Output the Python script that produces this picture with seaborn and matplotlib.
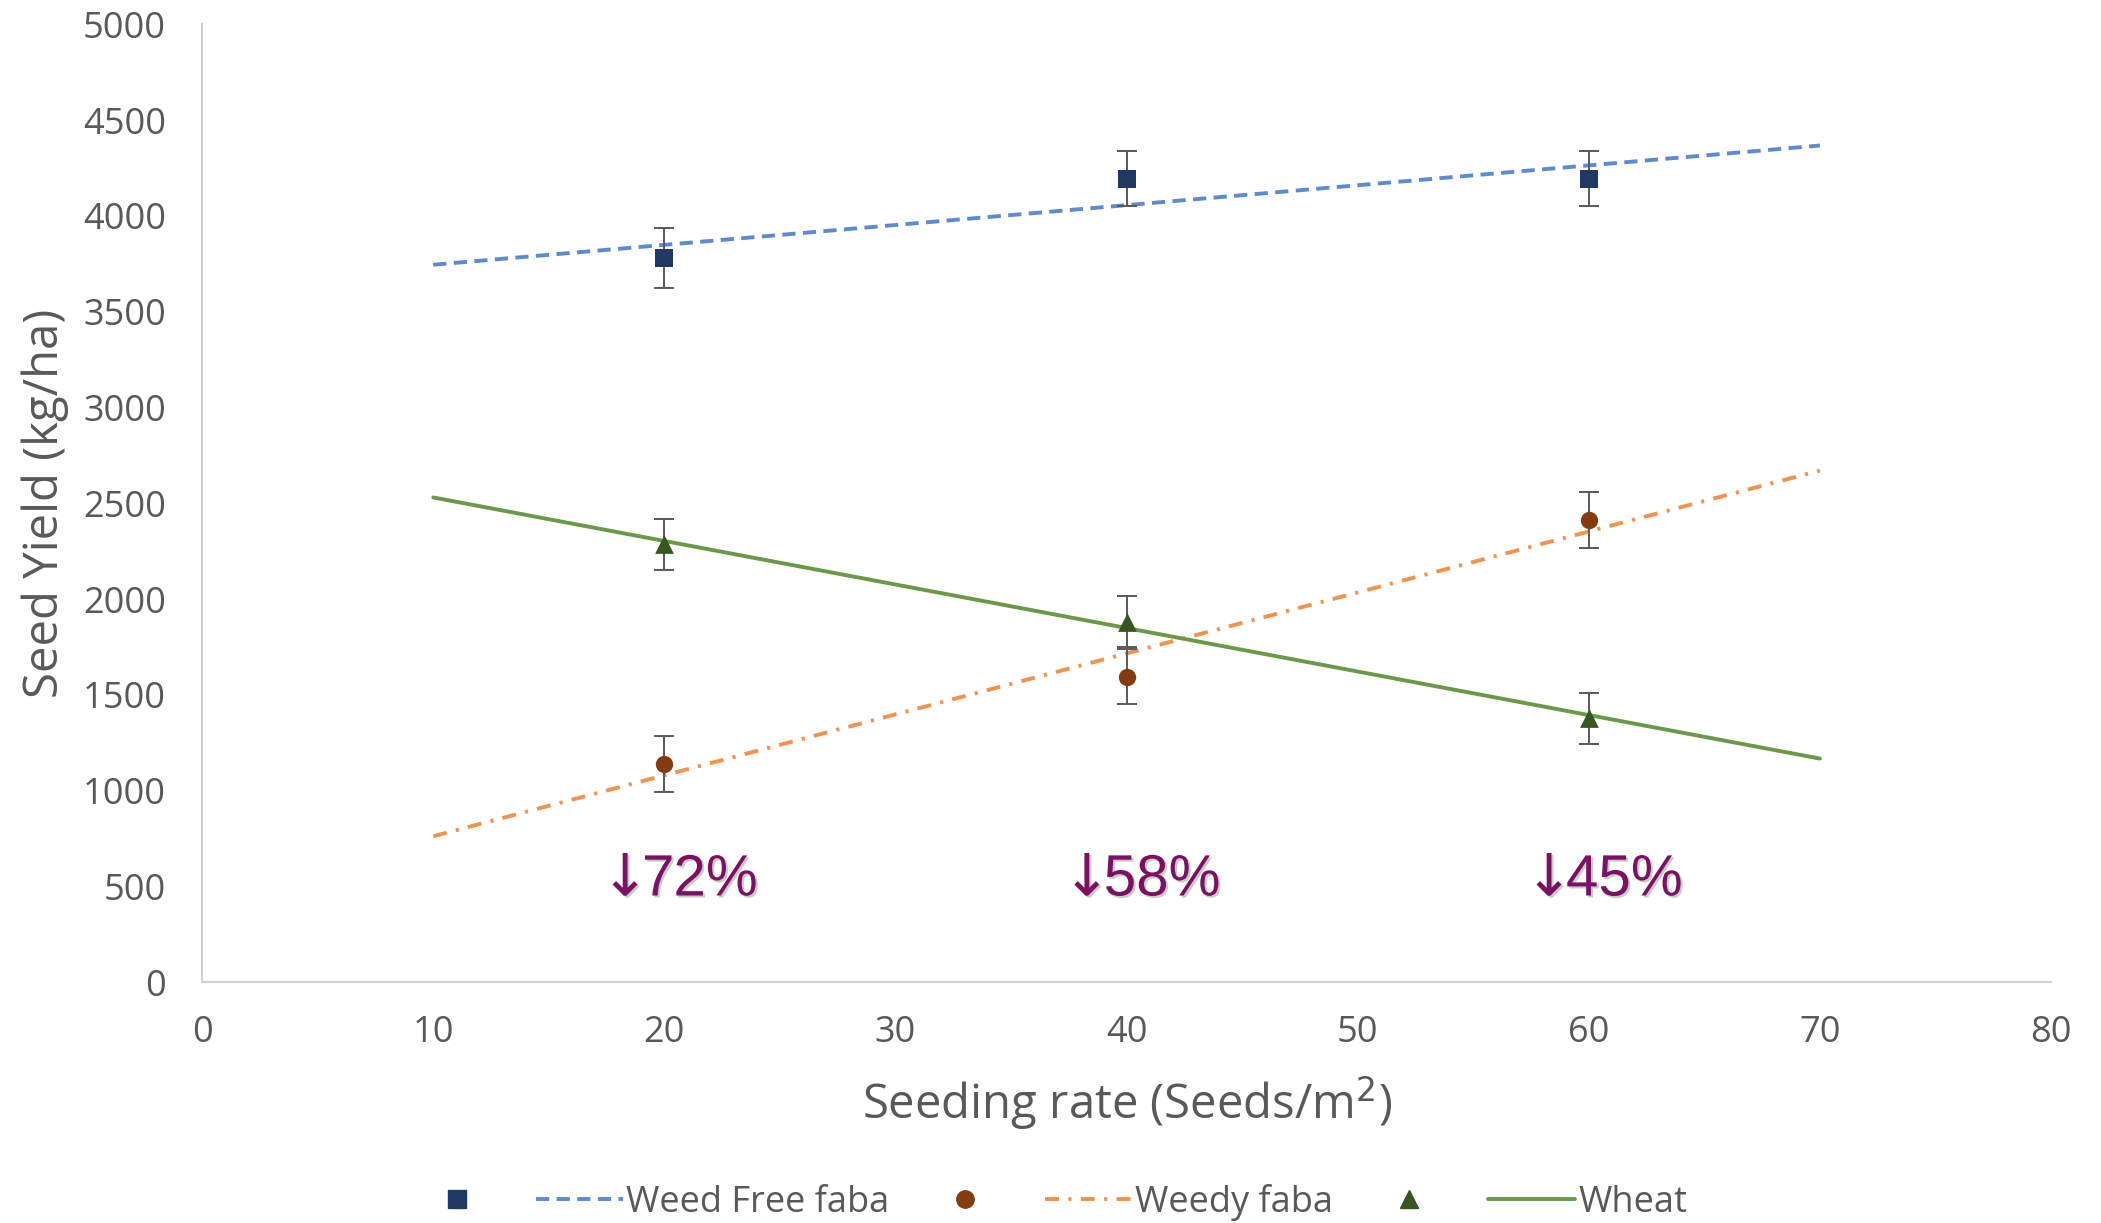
import numpy as np
import pandas as pd
import matplotlib
matplotlib.use("Agg")
import matplotlib.pyplot as plt
import matplotlib.patheffects as pe
from matplotlib.lines import Line2D
import seaborn as sns

# ---- data ----
seeding_rate = [20, 40, 60]
weed_free_faba = [3780, 4195, 4195]
weed_free_err = [155, 145, 145]
weedy_faba = [1140, 1595, 2413]
weedy_err = [147, 145, 147]
wheat = [2287, 1881, 1378]
wheat_err = [133, 133, 133]
trend_range = [10, 70]
reduction_labels = ["72%", "58%", "45%"]
reduction_y = 530
series_names = ["Weed Free faba", "Weedy faba", "Wheat"]

sns.set_theme(style="white")
plt.rcParams['font.family'] = ['Open Sans', 'DejaVu Sans']
plt.rcParams['mathtext.fontset'] = 'dejavusans'

fig = plt.figure(figsize=(21.01, 12.23), dpi=100)
ax = fig.add_axes([0.0962, 0.197, 0.8800, 0.783])

text_col = "#595959"
series = [
    dict(name=series_names[0], y=weed_free_faba, e=weed_free_err, mk="s", mcol="#1F3864",
         lcol="#5B8AD6", ls=(0, (3.4, 1.9)), ms=12.5),
    dict(name=series_names[1], y=weedy_faba, e=weedy_err, mk="o", mcol="#843C0C",
         lcol="#F4914A", ls=(0, (3.6, 2.4, 0.8, 2.4)), ms=12.5),
    dict(name=series_names[2], y=wheat, e=wheat_err, mk="^", mcol="#375623",
         lcol="#6A9A48", ls="-", ms=13.5),
]

handles, labels = [], []
for s in series:
    x = np.array(seeding_rate, dtype=float)
    y = np.array(s["y"], dtype=float)
    b, a = np.polyfit(x, y, 1)
    tx = np.array(trend_range, dtype=float)
    tdf = pd.DataFrame({"x": tx, "y": a + b * tx})
    sns.lineplot(data=tdf, x="x", y="y", ax=ax, color=s["lcol"], lw=2.8,
                 linestyle=s["ls"], zorder=2)
    ax.errorbar(x, y, yerr=s["e"], fmt="none", ecolor="#595959", elinewidth=1.4,
                capsize=7, capthick=1.4, zorder=3)
    df = pd.DataFrame({"x": x, "y": y})
    sns.scatterplot(data=df, x="x", y="y", ax=ax, marker=s["mk"], color=s["mcol"],
                    s=s["ms"] ** 2, edgecolor=s["mcol"], linewidth=0, zorder=4)
    handles.append(Line2D([], [], marker=s["mk"], color=s["mcol"], linestyle="none",
                          markersize=s["ms"]))
    labels.append("")
    handles.append(Line2D([], [], color=s["lcol"], lw=2.8, linestyle=s["ls"]))
    labels.append(s["name"])

for xv, lab in zip(seeding_rate, reduction_labels):
    ax.text(xv + 0.4, reduction_y, r"$\downarrow\!\!$" + lab, ha="center", va="center",
            fontsize=42, color="#7B1163", family=['Liberation Sans', 'DejaVu Sans'],
            path_effects=[pe.withSimplePatchShadow(offset=(1.5, -1.5), shadow_rgbFace="#999999", alpha=0.5)],
            zorder=5)

ax.set_xlim(0, 80)
ax.set_ylim(0, 5000)
ax.set_xticks(np.arange(0, 81, 10))
ax.set_yticks(np.arange(0, 5001, 500))
ax.tick_params(axis="both", labelsize=26, colors=text_col, length=0)
ax.tick_params(axis="y", pad=26)
ax.tick_params(axis="x", pad=24)
ax.set_xlabel("Seeding rate (Seeds/m$^{2}$)", fontsize=34, color=text_col, labelpad=16)
ax.set_ylabel("Seed Yield (kg/ha)", fontsize=34, color=text_col, labelpad=10)
for sp in ["top", "right"]:
    ax.spines[sp].set_visible(False)
for sp in ["left", "bottom"]:
    ax.spines[sp].set_color("#D0D0D0")
    ax.spines[sp].set_linewidth(1.5)

leg = fig.legend(handles, labels, loc="center", bbox_to_anchor=(0.5, 0.017), ncol=6,
                 frameon=False, fontsize=26, handlelength=2.4, handletextpad=0.1,
                 columnspacing=0.9, labelcolor=text_col)

fig.savefig("out.png", dpi=100)
